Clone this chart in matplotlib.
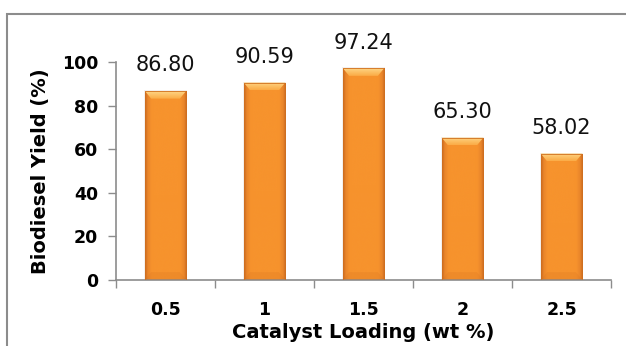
import numpy as np
import matplotlib
matplotlib.use("Agg")
import matplotlib.pyplot as plt
from matplotlib.patches import Rectangle, Polygon
from matplotlib.colors import LinearSegmentedColormap

# Data
loadings = ["0.5", "1", "1.5", "2", "2.5"]
yields = [86.80, 90.59, 97.24, 65.30, 58.02]
labels = ["86.80", "90.59", "97.24", "65.30", "58.02"]

plt.rcParams["font.family"] = ["DejaVu Sans"]

fig = plt.figure(figsize=(6.26, 3.46), dpi=100)
fig.patch.set_facecolor("white")

# outer chart frame
frame = Rectangle((7 / 626, -0.1), 1.2, 1 - 14 / 346 + 0.1, transform=fig.transFigure,
                  fill=False, edgecolor="#8c8c8c", linewidth=1.5, zorder=0)
fig.patches.append(frame)

ax = fig.add_axes([116 / 626, 1 - 280 / 346, (611 - 116) / 626, (280 - 62) / 346])
x = np.arange(len(loadings))
width = 0.42

bars = ax.bar(x, yields, width=width, color="none", edgecolor="none", zorder=2)

# horizontal shading across each bar: narrow darker sides, flat bright face
cmap = LinearSegmentedColormap.from_list(
    "bar_shade",
    [(0.0, "#c4661f"), (0.06, "#e8842a"), (0.16, "#f7932d"),
     (0.84, "#f7932d"), (0.94, "#e8842a"), (1.0, "#c4661f")])
grad = np.linspace(0, 1, 256).reshape(1, -1)
top_cmap = LinearSegmentedColormap.from_list("bevel", ["#fbab45", "#fed585"])
vgrad = np.linspace(0, 1, 64).reshape(-1, 1)
for b in bars:
    x0, w, h = b.get_x(), b.get_width(), b.get_height()
    # soft shadow
    ax.add_patch(Rectangle((x0 - 0.012, 0), w + 0.024, h + 0.3, facecolor="#ddd6cf",
                           edgecolor="none", alpha=0.35, zorder=1))
    im = ax.imshow(grad, cmap=cmap, aspect="auto", extent=(x0, x0 + w, 0, h),
                   interpolation="bicubic", zorder=2)
    im.set_clip_path(Rectangle((x0, 0), w, h, transform=ax.transData))
    # top bevel
    bev = 3.6
    inset = 0.065
    poly = Polygon([(x0, h), (x0 + w, h), (x0 + w - inset, h - bev), (x0 + inset, h - bev)],
                   closed=True, facecolor="none", edgecolor="none", transform=ax.transData)
    ax.add_patch(poly)
    tim = ax.imshow(vgrad, cmap=top_cmap, aspect="auto", origin="lower",
                    extent=(x0, x0 + w, h - bev, h), interpolation="bicubic", zorder=3)
    tim.set_clip_path(poly)
    # bottom bevel
    ax.add_patch(Polygon([(x0, 0), (x0 + w, 0), (x0 + w - inset, bev), (x0 + inset, bev)],
                         closed=True, facecolor="#d06d1d", edgecolor="none", alpha=0.2, zorder=3))
    ax.add_patch(Rectangle((x0, 0), w, h, fill=False, edgecolor="#d0701f",
                           linewidth=0.6, zorder=4))

for xi, v, lab in zip(x, yields, labels):
    ax.annotate(lab, (xi, v), xytext=(0, 11), textcoords="offset points",
                ha="center", va="bottom", fontsize=15, color="#111111")

ax.set_xlim(-0.5, len(loadings) - 0.5)
ax.set_ylim(0, 100)
ax.set_yticks([0, 20, 40, 60, 80, 100])
ax.set_xticks(np.arange(-0.5, len(loadings), 1.0))
ax.set_xticklabels([])
ax.set_xticks(x, minor=True)
ax.set_xticklabels(loadings, minor=True)
ax.tick_params(axis="x", which="minor", length=0, pad=15, labelsize=12.5)
ax.tick_params(axis="x", which="major", length=6, width=1, color="#8c8c8c", direction="out")
ax.tick_params(axis="y", length=6, width=1, color="#8c8c8c", direction="out", labelsize=12.5, pad=7)
for lab in ax.get_xticklabels(minor=True) + ax.get_yticklabels():
    lab.set_fontweight("bold")

for s in ["top", "right"]:
    ax.spines[s].set_visible(False)
for s in ["left", "bottom"]:
    ax.spines[s].set_color("#8c8c8c")
    ax.spines[s].set_linewidth(1.2)

ax.set_xlabel("Catalyst Loading (wt %)", fontsize=14, fontweight="bold", labelpad=3)
ax.set_ylabel("Biodiesel Yield (%)", fontsize=14, fontweight="bold", labelpad=8)

fig.savefig("out.png", dpi=100)
